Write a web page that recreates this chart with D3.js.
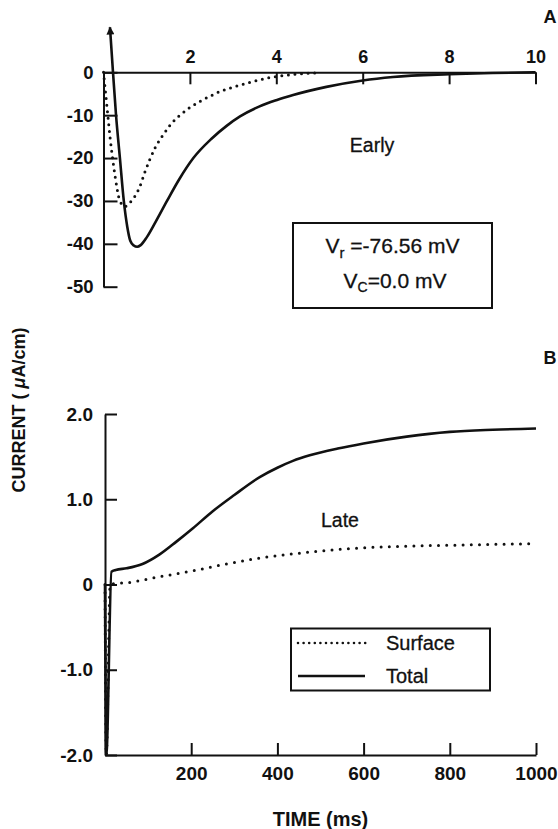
<!DOCTYPE html>
<html>
<head>
<meta charset="utf-8">
<script src="https://cdn.jsdelivr.net/npm/d3@7"></script>
<style>
  html, body { margin: 0; padding: 0; background: #fff; }
  svg { display: block; }
  text { font-family: "Liberation Sans", Arial, sans-serif; fill: #111; }
  .label { stroke: #111; stroke-width: 0.3px; }
</style>
</head>
<body>
<svg id="fig" width="558" height="829"></svg>
<script>
// ---- Panel A: early currents (0-10 ms) ----
const earlyTotalT = [0.15, 0.22, 0.29, 0.38, 0.47, 0.55, 0.62, 0.70, 0.78, 0.86, 1.00, 1.20, 1.47, 1.75, 2.08, 2.50, 2.85, 3.16, 3.60, 4.00, 4.39, 5.16, 6.00, 6.70, 8.00, 9.00, 10.0];
const earlyTotalI = [10.5, 0, -10, -20, -30, -36, -39.3, -40.4, -40.7, -40.3, -38.5, -35, -30, -25, -20, -15.5, -12.5, -10.3, -8, -6.5, -5.3, -3.4, -1.9, -1.1, -0.45, -0.15, 0];
const earlySurfT = [0, 0.05, 0.10, 0.15, 0.21, 0.28, 0.38, 0.50, 0.60, 0.72, 0.84, 0.95, 1.07, 1.20, 1.38, 1.55, 1.77, 2.00, 2.23, 2.46, 2.69, 2.92, 3.16, 3.40, 3.60, 3.80, 4.00, 4.50, 5.00];
const earlySurfI = [0, -5, -10, -15, -20, -25, -30, -31.3, -30.5, -29, -26.7, -23.5, -20.4, -17.5, -14.6, -12.2, -10, -8.2, -6.8, -5.6, -4.5, -3.7, -3, -2.3, -1.8, -1.3, -1.0, -0.4, -0.1];
const earlyXTicks = [2, 4, 6, 8, 10];
const earlyYTicks = [0, -10, -20, -30, -40, -50];
const earlyYLabels = ["0", "-10", "-20", "-30", "-40", "-50"];

// ---- Panel B: late currents (0-1000 ms) ----
const lateTotalT = [0, 3, 15, 25, 50, 87, 126, 165, 204, 250, 300, 359, 400, 436, 475, 540, 600, 700, 800, 900, 1000];
const lateTotalI = [0, -2.0, 0.15, 0.17, 0.19, 0.24, 0.35, 0.50, 0.66, 0.86, 1.05, 1.26, 1.37, 1.45, 1.515, 1.595, 1.655, 1.735, 1.79, 1.815, 1.83];
const lateSurfT = [0, 3, 12, 20, 49, 126, 204, 281, 359, 420, 475, 540, 600, 700, 800, 900, 1000];
const lateSurfI = [0, -2.0, 0.0, 0.01, 0.02, 0.09, 0.16, 0.24, 0.31, 0.35, 0.38, 0.41, 0.43, 0.45, 0.46, 0.47, 0.48];
const lateXTicks = [200, 400, 600, 800, 1000];
const lateYTicks = [2, 1, 0, -1, -2];
const lateYLabels = ["2.0", "1.0", "0", "-1.0", "-2.0"];

const legendNames = ["Surface", "Total"];

const svg = d3.select("#fig");
const ink = "#111";
const font = "Liberation Sans, Arial, sans-serif";

// arrowhead for the off-scale start of the early total current
svg.append("defs").append("marker")
  .attr("id", "arrow")
  .attr("viewBox", "0 0 10 10")
  .attr("refX", 9).attr("refY", 5)
  .attr("markerUnits", "userSpaceOnUse")
  .attr("markerWidth", 13).attr("markerHeight", 8)
  .attr("orient", "auto-start-reverse")
  .append("path").attr("d", "M0,0 L10,5 L0,10 z").attr("fill", ink);

function zip(a, b) { return a.map((v, i) => [v, b[i]]); }

function styleAxis(g, size) {
  g.select(".domain").attr("stroke", ink).attr("stroke-width", 2);
  g.selectAll(".tick line").attr("stroke", ink).attr("stroke-width", 2);
  g.selectAll(".tick text").attr("font-size", size).attr("fill", ink)
    .attr("font-family", font).attr("font-weight", "bold");
}

// ---------- Panel A ----------
const xA = d3.scaleLinear().domain([0, 10]).range([103.5, 535.5]);
const yA = d3.scaleLinear().domain([0, -50]).range([72.3, 286.7]);

svg.append("g").attr("transform", `translate(0,${yA(0)})`)
  .call(d3.axisTop(xA).tickValues(earlyXTicks).tickFormat(d3.format("d"))
    .tickSizeInner(-12).tickSizeOuter(0).tickPadding(9))
  .call(g => styleAxis(g, 18));

svg.append("g").attr("transform", `translate(${xA(0)},0)`)
  .call(d3.axisLeft(yA).tickValues(earlyYTicks).tickFormat((d, i) => earlyYLabels[i])
    .tickSizeInner(-14).tickSizeOuter(0).tickPadding(10))
  .call(g => styleAxis(g, 18.5));

const lineA = d3.line().x(d => xA(d[0])).y(d => yA(d[1])).curve(d3.curveMonotoneX);

svg.append("path").datum(zip(earlySurfT, earlySurfI))
  .attr("d", lineA).attr("fill", "none").attr("stroke", ink)
  .attr("stroke-width", 3).attr("stroke-linecap", "round")
  .attr("stroke-dasharray", "0,6.6");

svg.append("path").datum(zip(earlyTotalT, earlyTotalI))
  .attr("d", lineA).attr("fill", "none").attr("stroke", ink)
  .attr("stroke-width", 2.6).attr("marker-start", "url(#arrow)");

svg.append("text").attr("x", 550).attr("y", 23).attr("text-anchor", "middle")
  .attr("font-size", 18).attr("font-weight", "bold").text("A");

svg.append("text").attr("class", "label").attr("x", 372).attr("y", 152).attr("text-anchor", "middle")
  .attr("font-size", 19.5).text("Early");

svg.append("rect").attr("x", 293).attr("y", 223).attr("width", 199).attr("height", 85)
  .attr("fill", "none").attr("stroke", ink).attr("stroke-width", 2);

const v1 = svg.append("text").attr("class", "label").attr("x", 392.5).attr("y", 253)
  .attr("text-anchor", "middle").attr("font-size", 21);
v1.append("tspan").text("V");
v1.append("tspan").attr("font-size", 15).attr("dy", 5).text("r");
v1.append("tspan").attr("dy", -5).text(" =-76.56 mV");

const v2 = svg.append("text").attr("class", "label").attr("x", 395).attr("y", 288)
  .attr("text-anchor", "middle").attr("font-size", 21);
v2.append("tspan").text("V");
v2.append("tspan").attr("font-size", 14).attr("dy", 4).text("C");
v2.append("tspan").attr("dy", -4).text("=0.0 mV");

// ---------- Panel B ----------
const xB = d3.scaleLinear().domain([0, 1000]).range([105, 536]);
const yB = d3.scaleLinear().domain([-2, 2]).range([755, 414]);

svg.append("g").attr("transform", `translate(0,${yB(-2)})`)
  .call(d3.axisBottom(xB).tickValues(lateXTicks).tickFormat(d3.format("d"))
    .tickSizeInner(-12).tickSizeOuter(0).tickPadding(12))
  .call(g => styleAxis(g, 19));

svg.append("g").attr("transform", `translate(${xB(0)},0)`)
  .call(d3.axisLeft(yB).tickValues(lateYTicks).tickFormat((d, i) => lateYLabels[i])
    .tickSizeInner(-12).tickSizeOuter(0).tickPadding(12))
  .call(g => styleAxis(g, 19));

const lineB = d3.line().x(d => xB(d[0])).y(d => yB(d[1])).curve(d3.curveMonotoneX);

svg.append("path").datum(zip(lateSurfT, lateSurfI))
  .attr("d", lineB).attr("fill", "none").attr("stroke", ink)
  .attr("stroke-width", 3).attr("stroke-linecap", "round")
  .attr("stroke-dasharray", "0,8.2");

svg.append("path").datum(zip(lateTotalT, lateTotalI))
  .attr("d", lineB).attr("fill", "none").attr("stroke", ink)
  .attr("stroke-width", 2.6);

svg.append("text").attr("x", 550).attr("y", 364).attr("text-anchor", "middle")
  .attr("font-size", 18).attr("font-weight", "bold").text("B");

svg.append("text").attr("class", "label").attr("x", 340).attr("y", 527).attr("text-anchor", "middle")
  .attr("font-size", 19.5).text("Late");

// legend
svg.append("rect").attr("x", 291).attr("y", 628.5).attr("width", 199).attr("height", 62)
  .attr("fill", "none").attr("stroke", ink).attr("stroke-width", 2);
const legY = [643, 676];
svg.append("line").attr("x1", 298).attr("x2", 366).attr("y1", legY[0]).attr("y2", legY[0])
  .attr("stroke", ink).attr("stroke-width", 2.6).attr("stroke-linecap", "round")
  .attr("stroke-dasharray", "0,5.6");
svg.append("line").attr("x1", 298).attr("x2", 365).attr("y1", legY[1]).attr("y2", legY[1])
  .attr("stroke", ink).attr("stroke-width", 2.6);
legendNames.forEach((n, i) => {
  svg.append("text").attr("class", "label").attr("x", 386).attr("y", legY[i] + 7)
    .attr("font-size", 20).text(n);
});

// axis titles
svg.append("text").attr("x", 320.5).attr("y", 826).attr("text-anchor", "middle")
  .attr("font-size", 20).attr("font-weight", "bold").text("TIME (ms)");

const yt = svg.append("text").attr("transform", "translate(25,410) rotate(-90)")
  .attr("text-anchor", "middle").attr("font-size", 18).attr("font-weight", "bold");
yt.append("tspan").text("CURRENT ( ");
yt.append("tspan").attr("font-style", "italic").text("μ");
yt.append("tspan").text("A/cm)");
</script>
</body>
</html>
